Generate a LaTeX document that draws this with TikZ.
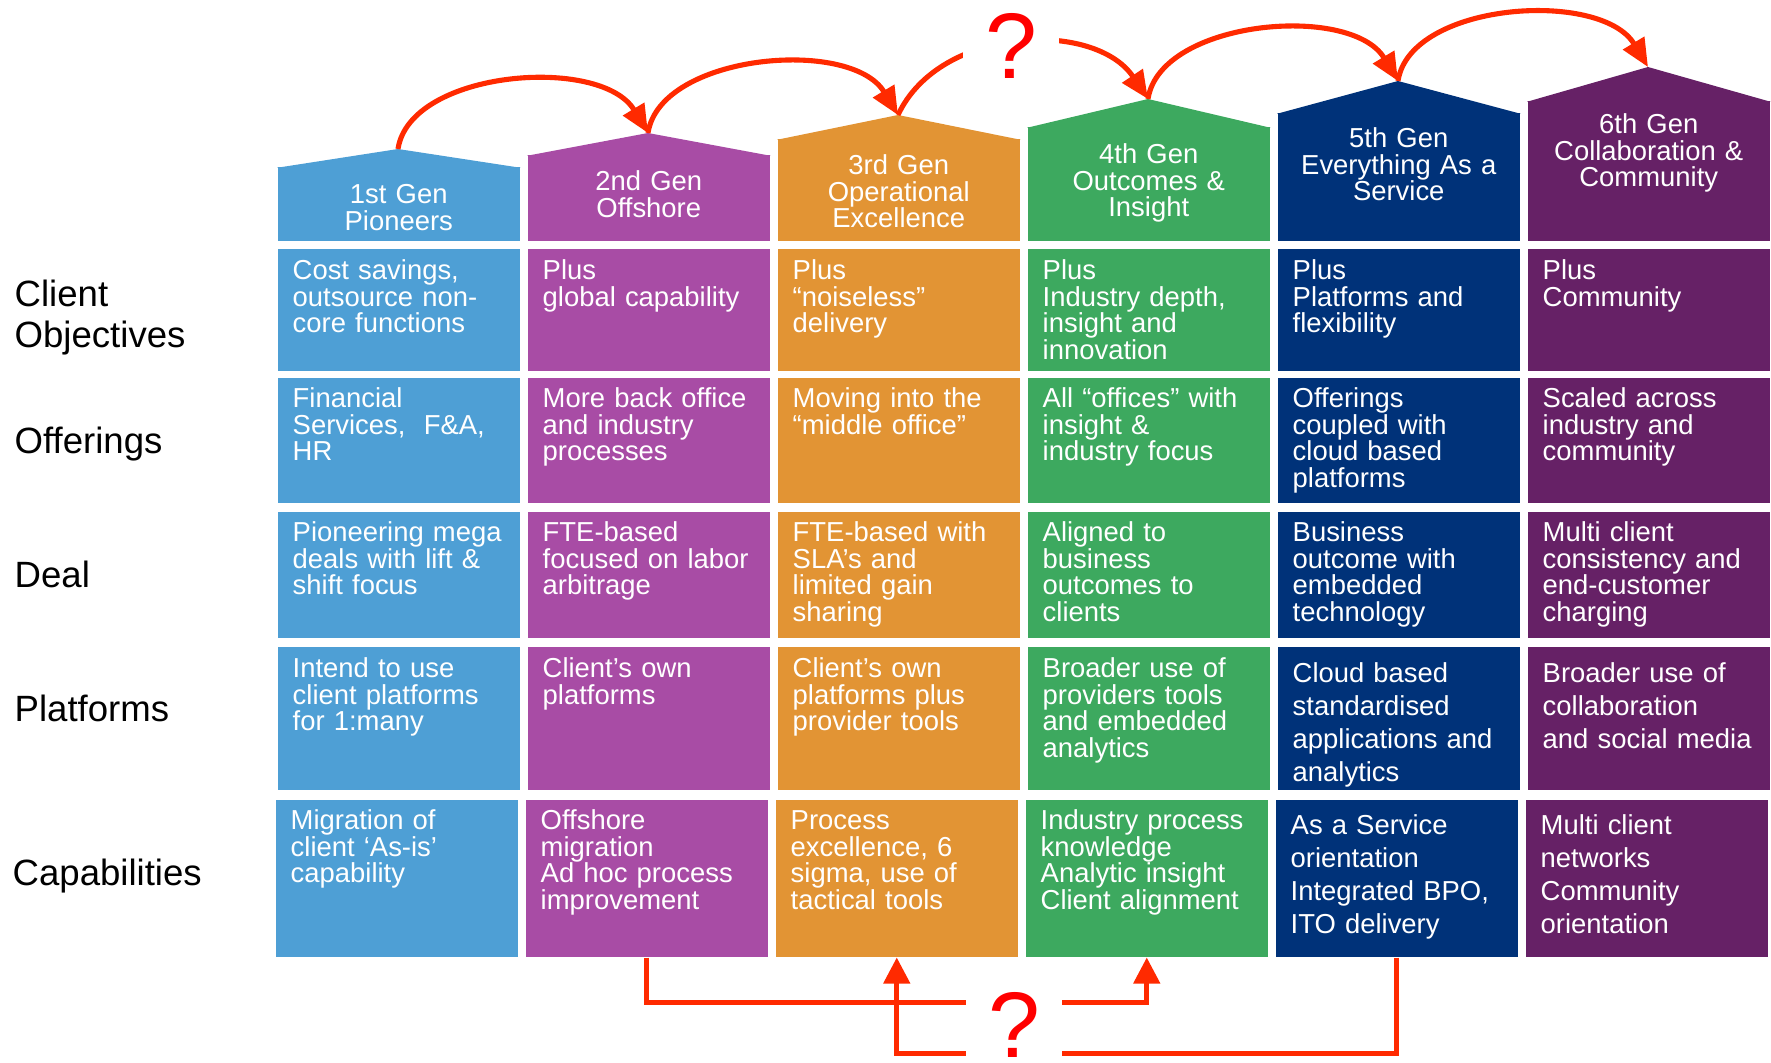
\documentclass[tikz,border=0pt]{standalone}
\usepackage{fontspec}
\setmainfont{Liberation Sans}
\usetikzlibrary{arrows.meta}
\definecolor{genblue}{HTML}{4E9FD5}
\definecolor{genpurple}{HTML}{A84CA5}
\definecolor{genorange}{HTML}{E29434}
\definecolor{gengreen}{HTML}{3DA95F}
\definecolor{gennavy}{HTML}{003279}
\definecolor{genplum}{HTML}{662166}
\definecolor{linkred}{HTML}{FF2A00}
\definecolor{qred}{HTML}{FF0000}

\begin{document}
\begin{tikzpicture}[x=0.01cm,y=-0.01cm,
  genhead/.style={anchor=north west,inner sep=0pt,text width=2.42cm,align=center,text=white,font=\fontsize{7.8}{7.55}\selectfont},
  cellbox/.style={anchor=north west,inner ysep=0pt,inner xsep=.15cm,text width=2.12cm,align=left,text=white,font=\fontsize{7.8}{7.55}\selectfont},
  wide/.style={font=\fontsize{7.8}{9.4}\selectfont},
  rowa/.style={text height=.31cm,text depth=.91cm},
  rowb/.style={text height=.30cm,text depth=.95cm},
  rowc/.style={text height=.30cm,text depth=.96cm},
  rowd/.style={text height=.31cm,text depth=1.12cm},
  rowdw/.style={text height=.36cm,text depth=1.07cm},
  rowe/.style={text height=.30cm,text depth=1.27cm},
  rowew/.style={text height=.35cm,text depth=1.22cm},
  rowlabel/.style={anchor=base west,inner sep=0pt,text width=2.4cm,align=left,font=\fontsize{10.4}{11.7}\selectfont},
  hop/.style={draw=linkred,line width=1.45pt,-{Triangle[length=.28cm,width=.24cm]}},
  route/.style={draw=linkred,line width=1.3pt,-{Triangle[length=.26cm,width=.26cm]}},
  qmark/.style={anchor=base,inner sep=0pt,minimum width=.95cm,fill=white,text=qred,font=\fontsize{26.5}{26.5}\selectfont}]
\useasboundingbox (0,0) rectangle (1771,1063);

% generation headers
\coordinate (top1) at (398,149);
\coordinate (top2) at (648,133);
\coordinate (top3) at (898,115);
\coordinate (top4) at (1148,99);
\coordinate (top5) at (1398,81);
\coordinate (top6) at (1648,67);
\node[genhead,fill=genblue,text height=.37cm,text depth=.37cm] (hd1) at (277,166) {1st Gen\\Pioneers};
\node[genhead,fill=genpurple,text height=.36cm,text depth=.50cm] (hd2) at (527,154) {2nd Gen\\Offshore};
\node[genhead,fill=genorange,text height=.36cm,text depth=.66cm] (hd3) at (777,138) {3rd Gen\\Operational\\Excellence};
\node[genhead,fill=gengreen,text height=.37cm,text depth=.77cm] (hd4) at (1027,126) {4th Gen\\Outcomes \&\\Insight};
\node[genhead,fill=gennavy,text height=.35cm,text depth=.93cm] (hd5) at (1277,112) {5th Gen\\Everything As a\\Service};
\node[genhead,fill=genplum,text height=.33cm,text depth=1.07cm] (hd6) at (1527,100) {6th Gen\\Collaboration \&\\Community};
\fill[genblue] ([yshift=-.5pt]hd1.north west) -- (top1) -- ([yshift=-.5pt]hd1.north east) -- cycle;
\fill[genpurple] ([yshift=-.5pt]hd2.north west) -- (top2) -- ([yshift=-.5pt]hd2.north east) -- cycle;
\fill[genorange] ([yshift=-.5pt]hd3.north west) -- (top3) -- ([yshift=-.5pt]hd3.north east) -- cycle;
\fill[gengreen] ([yshift=-.5pt]hd4.north west) -- (top4) -- ([yshift=-.5pt]hd4.north east) -- cycle;
\fill[gennavy] ([yshift=-.5pt]hd5.north west) -- (top5) -- ([yshift=-.5pt]hd5.north east) -- cycle;
\fill[genplum] ([yshift=-.5pt]hd6.north west) -- (top6) -- ([yshift=-.5pt]hd6.north east) -- cycle;

% row labels
\node[rowlabel] (lobj) at (14,306) {Client\\Objectives};
\node[rowlabel] (loff) at (14,453) {Offerings};
\node[rowlabel] (ldeal) at (14,587) {Deal};
\node[rowlabel] (lplat) at (14,721) {Platforms};
\node[rowlabel] (lcap) at (12,885) {Capabilities};

% client objectives
\node[cellbox,rowa,fill=genblue] (obj1) at (277,248) {Cost savings,\\outsource non-\\core functions};
\node[cellbox,rowa,fill=genpurple] (obj2) at (527,248) {Plus\\global capability};
\node[cellbox,rowa,fill=genorange] (obj3) at (777,248) {Plus\\“noiseless”\\delivery};
\node[cellbox,rowa,fill=gengreen] (obj4) at (1027,248) {Plus\\Industry depth,\\insight and\\innovation};
\node[cellbox,rowa,fill=gennavy] (obj5) at (1277,248) {Plus\\Platforms and\\flexibility};
\node[cellbox,rowa,fill=genplum] (obj6) at (1527,248) {Plus\\Community};

% offerings
\node[cellbox,rowb,fill=genblue] (off1) at (277,377) {Financial\\Services,\ \ F\&A,\\HR};
\node[cellbox,rowb,fill=genpurple] (off2) at (527,377) {More back office\\and industry\\processes};
\node[cellbox,rowb,fill=genorange] (off3) at (777,377) {Moving into the\\“middle office”};
\node[cellbox,rowb,fill=gengreen] (off4) at (1027,377) {All “offices” with\\insight \&\\industry focus};
\node[cellbox,rowb,fill=gennavy] (off5) at (1277,377) {Offerings\\coupled with\\cloud based\\platforms};
\node[cellbox,rowb,fill=genplum] (off6) at (1527,377) {Scaled across\\industry and\\community};

% deal
\node[cellbox,rowc,fill=genblue] (deal1) at (277,511) {Pioneering mega\\deals with lift \&\\shift focus};
\node[cellbox,rowc,fill=genpurple] (deal2) at (527,511) {FTE-based\\focused on labor\\arbitrage};
\node[cellbox,rowc,fill=genorange] (deal3) at (777,511) {FTE-based with\\SLA’s and\\limited gain\\sharing};
\node[cellbox,rowc,fill=gengreen] (deal4) at (1027,511) {Aligned to\\business\\outcomes to\\clients};
\node[cellbox,rowc,fill=gennavy] (deal5) at (1277,511) {Business\\outcome with\\embedded\\technology};
\node[cellbox,rowc,fill=genplum] (deal6) at (1527,511) {Multi client\\consistency and\\end-customer\\charging};

% platforms
\node[cellbox,rowd,fill=genblue] (plat1) at (277,646) {Intend to use\\client platforms\\for 1:many};
\node[cellbox,rowd,fill=genpurple] (plat2) at (527,646) {Client’s own\\platforms};
\node[cellbox,rowd,fill=genorange] (plat3) at (777,646) {Client’s own\\platforms plus\\provider tools};
\node[cellbox,rowd,fill=gengreen] (plat4) at (1027,646) {Broader use of\\providers tools\\and embedded\\analytics};
\node[cellbox,wide,rowdw,fill=gennavy] (plat5) at (1277,646) {Cloud based\\standardised\\applications and\\analytics};
\node[cellbox,wide,rowdw,fill=genplum] (plat6) at (1527,646) {Broader use of\\collaboration\\and social media};

% capabilities
\node[cellbox,rowe,fill=genblue] (cap1) at (275,799) {Migration of\\client ‘As-is’\\capability};
\node[cellbox,rowe,fill=genpurple] (cap2) at (525,799) {Offshore\\migration\\Ad hoc process\\improvement};
\node[cellbox,rowe,fill=genorange] (cap3) at (775,799) {Process\\excellence, 6\\sigma, use of\\tactical tools};
\node[cellbox,rowe,fill=gengreen] (cap4) at (1025,799) {Industry process\\knowledge\\Analytic insight\\Client alignment};
\node[cellbox,wide,rowew,fill=gennavy] (cap5) at (1275,799) {As a Service\\orientation\\Integrated BPO,\\ITO delivery};
\node[cellbox,wide,rowew,fill=genplum] (cap6) at (1525,799) {Multi client\\networks\\Community\\orientation};

% hops between generations
\draw[hop] (top1) .. controls +(12,-79) and +(-47,-78) .. (top2);
\draw[hop] (top2) .. controls +(12,-79) and +(-47,-78) .. (top3);
\draw[hop] (top3) .. controls +(42,-90) and +(-53,-79) .. (top4);
\draw[hop] (top4) .. controls +(12,-79) and +(-47,-78) .. (top5);
\draw[hop] (top5) .. controls +(12,-79) and +(-47,-78) .. (top6);
\node[qmark] (qtop) at (1011,78) {?};

% capability routes
\draw[route] (cap2.south) -- ++(0,45) -| (cap4.south);
\draw[route] (cap5.south) -- ++(0,96) -| (cap3.south);
\node[qmark] (qbot) at (1014,1057) {?};
\end{tikzpicture}
\end{document}
